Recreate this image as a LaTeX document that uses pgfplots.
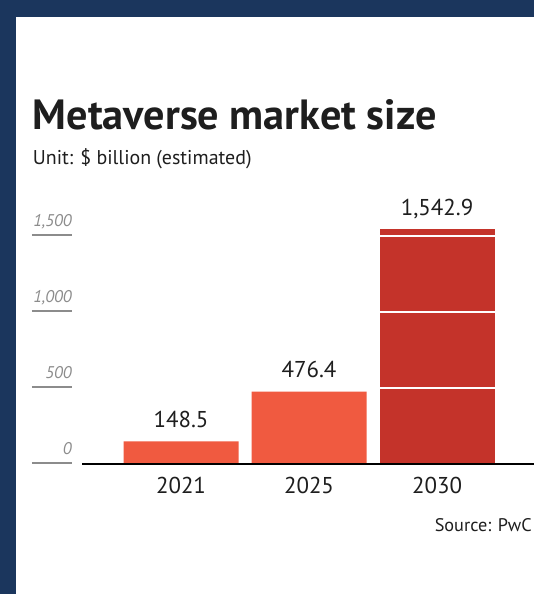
\documentclass[border=0pt]{standalone}
\usepackage{pgfplots}
\pgfplotsset{compat=1.18}
\usepackage{fontspec}
\setmainfont{PT Sans}

\definecolor{frameblue}{HTML}{1B365D}
\definecolor{barorange}{HTML}{F05A40}
\definecolor{barred}{HTML}{C4332A}
\definecolor{tickgray}{HTML}{8C8C8C}
\definecolor{ink}{HTML}{1E1E1E}

\begin{document}
\begin{tikzpicture}[x=1bp,y=1bp]
% page and frame
\fill[white] (0,0) rectangle (534,594);
\fill[frameblue] (0,0) rectangle (16,594);
\fill[frameblue] (0,577) rectangle (534,594);

% titles
\node[anchor=base west, inner sep=0pt, text=ink,
      font=\fontsize{42.4}{46}\selectfont\bfseries] at (32.7,464) {Metaverse market size};
\node[anchor=base west, inner sep=0pt, text=ink,
      font=\fontsize{20}{24}\selectfont] at (32.7,429) {Unit: \$ billion (estimated)};
\node[anchor=base east, inner sep=0pt, text=ink,
      font=\fontsize{18.3}{22}\selectfont] at (532,62) {Source: PwC};

\begin{axis}[
    at={(181bp,130bp)}, anchor=origin,
    x=128bp, y=0.152bp,
    enlargelimits=false,
    xmin=-0.7734, xmax=2.7578,
    ymin=0, ymax=1600,
    clip=false,
    axis on top,
    ybar, bar width=115bp, bar shift=0pt,
    axis x line*=bottom, axis y line*=left,
    y axis line style={draw=none},
    x axis line style={-, line width=1.6bp, black},
    tick style={draw=none}, major tick length=0pt, tick align=inside,
    xtick={0,1,2}, xticklabels={2021,2025,2030},
    xticklabel style={anchor=base, yshift=-30bp, inner sep=0pt,
        text=ink, font=\fontsize{23}{27}\selectfont},
    ytick={0,500,1000,1500},
    ymajorgrids, grid style={white, line width=2.2bp},
    /pgf/number format/assume math mode=true,
    /pgf/number format/1000 sep={,},
    yticklabel style={anchor=south east, inner sep=0pt, xshift=-10bp,
        text=tickgray, font=\fontsize{17}{20}\selectfont\itshape},
    yticklabel={\vbox{\hbox to 40bp{\hfil\smash{\pgfmathprintnumber{\tick}}}%
        \kern7bp\hrule height 2bp}},
    nodes near coords={\pgfmathprintnumber[fixed, fixed zerofill, precision=1]{\pgfplotspointmeta}},
    every node near coord/.append style={anchor=base, yshift=14bp, inner sep=0pt,
        text=ink, font=\fontsize{23}{27}\selectfont},
]
\addplot[draw=none, fill=barorange] coordinates {(0,148.5) (1,476.4)};
\addplot[draw=none, fill=barred] coordinates {(2,1542.9)};
\end{axis}
\end{tikzpicture}
\end{document}
